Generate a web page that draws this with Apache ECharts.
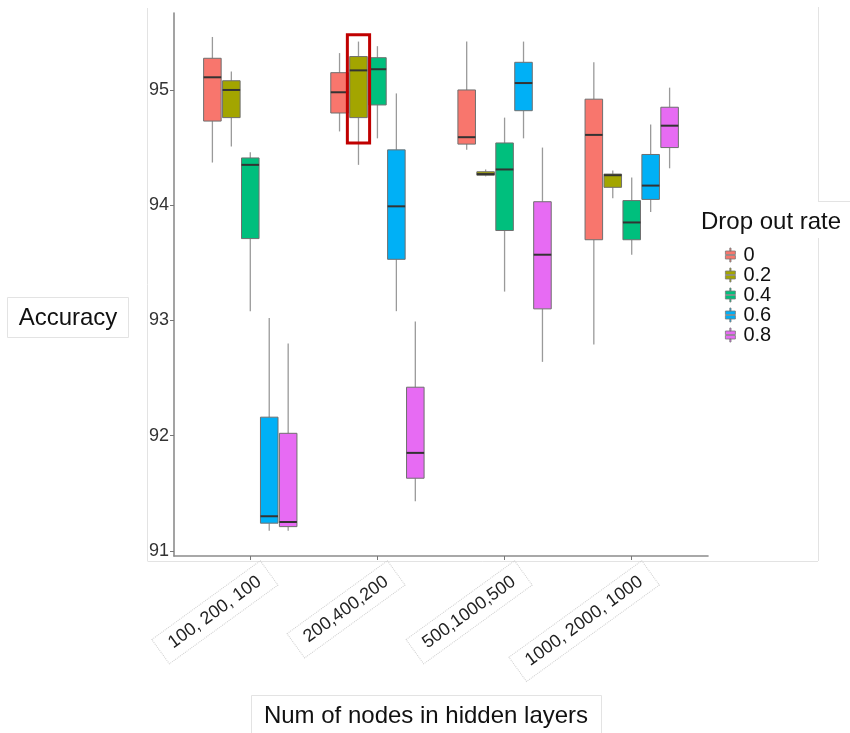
<!DOCTYPE html>
<html><head><meta charset="utf-8">
<script src="https://cdn.jsdelivr.net/npm/echarts@6/dist/echarts.min.js"></script>
<style>html,body{margin:0;padding:0;background:#fff}#c{width:850px;height:733px}</style>
</head><body><div id="c"></div>
<script>
// ---- data ----
const categories = ['100, 200, 100', '200,400,200', '500,1000,500', '1000, 2000, 1000'];
const dropoutRates = ['0', '0.2', '0.4', '0.6', '0.8'];
const yTicks = [91, 92, 93, 94, 95];
// each entry per category: [lower whisker, Q1, median, Q3, upper whisker]
const rate0   = [[94.37, 94.73, 95.11, 95.275, 95.46], [94.64, 94.80, 94.98, 95.15, 95.32], [94.48, 94.53, 94.59, 95.00, 95.42], [92.79, 93.70, 94.61, 94.92, 95.24]];
const rate02  = [[94.51, 94.76, 95.00, 95.08, 95.16], [94.35, 94.76, 95.17, 95.29, 95.42], [94.25, 94.26, 94.27, 94.29, 94.31], [94.06, 94.155, 94.26, 94.27, 94.30]];
const rate04  = [[93.08, 93.71, 94.35, 94.41, 94.46], [94.58, 94.87, 95.18, 95.28, 95.38], [93.25, 93.78, 94.31, 94.54, 94.76], [93.57, 93.70, 93.85, 94.04, 94.24]];
const rate06  = [[91.175, 91.24, 91.30, 92.16, 93.02], [93.08, 93.53, 93.99, 94.48, 94.97], [94.58, 94.82, 95.06, 95.24, 95.42], [93.94, 94.05, 94.17, 94.44, 94.70]];
const rate08  = [[91.175, 91.21, 91.25, 92.02, 92.80], [91.43, 91.63, 91.85, 92.42, 92.99], [92.64, 93.10, 93.57, 94.03, 94.50], [94.32, 94.50, 94.69, 94.85, 95.02]];
const seriesValues = [rate0, rate02, rate04, rate06, rate08];
// highlighted box: [category index (1-based), dropout index, top, bottom]
const highlight = [[2, 1, 95.48, 94.54]];

const colors = ['#F8766D', '#A3A500', '#00BF7D', '#00B0F6', '#E76BF3'];
const FONT = '"Liberation Sans", Arial, sans-serif';

function boxRender(si) {
  return function (params, api) {
    const cat = api.value(0);
    const v = [api.value(1), api.value(2), api.value(3), api.value(4), api.value(5)];
    const unit = api.size([1, 0])[0];
    const pitch = unit * 0.149, bw = unit * 0.138;
    const cx = api.coord([cat, v[2]])[0] + (si - 2) * pitch;
    const y = (val) => api.coord([cat, val])[1];
    const wStyle = { stroke: '#9a9a9a', lineWidth: 1.3 };
    return {
      type: 'group',
      children: [
        { type: 'line', shape: { x1: cx, y1: y(v[4]), x2: cx, y2: y(v[3]) }, style: wStyle },
        { type: 'line', shape: { x1: cx, y1: y(v[1]), x2: cx, y2: y(v[0]) }, style: wStyle },
        { type: 'rect', shape: { x: cx - bw / 2, y: y(v[3]), width: bw, height: y(v[1]) - y(v[3]) },
          style: { fill: colors[si], stroke: '#6f6f6f', lineWidth: 1 } },
        { type: 'line', shape: { x1: cx - bw / 2, y1: y(v[2]), x2: cx + bw / 2, y2: y(v[2]) },
          style: { stroke: '#333', lineWidth: 2 } }
      ]
    };
  };
}

const series = dropoutRates.map((name, si) => ({
  type: 'custom',
  name: name,
  renderItem: boxRender(si),
  itemStyle: { color: colors[si] },
  encode: { x: 0, y: [1, 2, 3, 4, 5] },
  data: seriesValues[si].map((r, ci) => [ci + 1].concat(r)),
  z: 2
}));
series.push({
  type: 'custom',
  name: 'highlight',
  renderItem: function (params, api) {
    const cat = api.value(0), si = api.value(1);
    const unit = api.size([1, 0])[0];
    const cx = api.coord([cat, api.value(2)])[0] + (si - 2) * unit * 0.149;
    const w = unit * 0.175;
    const y1 = api.coord([cat, api.value(2)])[1], y2 = api.coord([cat, api.value(3)])[1];
    return { type: 'rect', shape: { x: cx - w / 2, y: y1, width: w, height: y2 - y1 },
      style: { fill: 'none', stroke: '#C00000', lineWidth: 3 } };
  },
  encode: { x: 0, y: [2, 3] },
  data: highlight,
  z: 5
});

const frame = '#e3e3e3';
const option = {
  animation: false,
  backgroundColor: '#fff',
  textStyle: { fontFamily: FONT },
  grid: { left: 174, right: 142, top: 13, bottom: 177, containLabel: false, outerBoundsMode: 'none' },
  title: {
    text: 'Drop out rate', left: 701, top: 210, padding: 0,
    textStyle: { fontSize: 24, fontWeight: 'normal', color: '#111', fontFamily: FONT }
  },
  legend: {
    data: dropoutRates, orient: 'vertical', left: 725, top: 245, padding: 0,
    itemGap: 0, itemWidth: 10, itemHeight: 15,
    icon: 'path://M4.4,0L5.6,0L5.6,3L4.4,3Z M0,3L10,3L10,6.6L0,6.6Z M0,7.4L10,7.4L10,11L0,11Z M4.4,11L5.6,11L5.6,14L4.4,14Z',
    itemStyle: { borderColor: '#7a7a7a', borderWidth: 0.8 },
    textStyle: { fontSize: 20, color: '#111', lineHeight: 19, padding: [0, 0, 0, 3], fontFamily: FONT },
    selectedMode: false
  },
  xAxis: {
    type: 'value', min: 0.4, max: 4.6,
    axisLine: { show: true, lineStyle: { color: '#8c8c8c', width: 1.6 } },
    axisTick: { show: true, customValues: [1, 2, 3, 4], length: 4, lineStyle: { color: '#777' } },
    splitLine: { show: false },
    axisLabel: {
      customValues: [1, 2, 3, 4],
      rotate: 36, margin: -9, verticalAlign: 'top', padding: [17, 0, 0, 0],
      formatter: (v) => '{b|' + categories[Math.round(v) - 1] + '}',
      rich: { b: { fontSize: 18, color: '#222', fontFamily: FONT, borderColor: '#cfcfcf', borderType: 'dotted', borderWidth: 1, padding: [6, 12] } }
    }
  },
  yAxis: {
    type: 'value', min: 90.955, max: 95.668,
    axisLine: { show: true, lineStyle: { color: '#8c8c8c', width: 1.6 } },
    axisTick: { show: true, customValues: yTicks, length: 4, lineStyle: { color: '#777' } },
    splitLine: { show: false },
    axisLabel: { customValues: yTicks, fontSize: 18, color: '#333', margin: 5, fontFamily: FONT }
  },
  graphic: [
    { type: 'line', shape: { x1: 147.5, y1: 8, x2: 147.5, y2: 561 }, style: { stroke: frame, lineWidth: 1 }, silent: true },
    { type: 'line', shape: { x1: 147.5, y1: 561.5, x2: 818, y2: 561.5 }, style: { stroke: frame, lineWidth: 1 }, silent: true },
    { type: 'line', shape: { x1: 818.5, y1: 7, x2: 818.5, y2: 201 }, style: { stroke: frame, lineWidth: 1 }, silent: true },
    { type: 'line', shape: { x1: 818, y1: 201.5, x2: 850, y2: 201.5 }, style: { stroke: frame, lineWidth: 1 }, silent: true },
    { type: 'line', shape: { x1: 818.5, y1: 238, x2: 818.5, y2: 561 }, style: { stroke: frame, lineWidth: 1 }, silent: true },
    { type: 'rect', shape: { x: 7.5, y: 297.5, width: 121, height: 40 }, style: { fill: 'none', stroke: frame, lineWidth: 1 }, silent: true },
    { type: 'text', x: 68, y: 318, style: { text: 'Accuracy', font: '24px ' + FONT, fill: '#111', align: 'center', verticalAlign: 'middle' } },
    { type: 'rect', shape: { x: 251.5, y: 695.5, width: 350, height: 42 }, style: { fill: 'none', stroke: frame, lineWidth: 1 }, silent: true },
    { type: 'text', x: 426, y: 716, style: { text: 'Num of nodes in hidden layers', font: '24px ' + FONT, fill: '#111', align: 'center', verticalAlign: 'middle' } }
  ],
  series: series
};
const chart = echarts.init(document.getElementById('c'), null, { renderer: 'canvas' });
chart.setOption(option);
</script>
</body></html>
